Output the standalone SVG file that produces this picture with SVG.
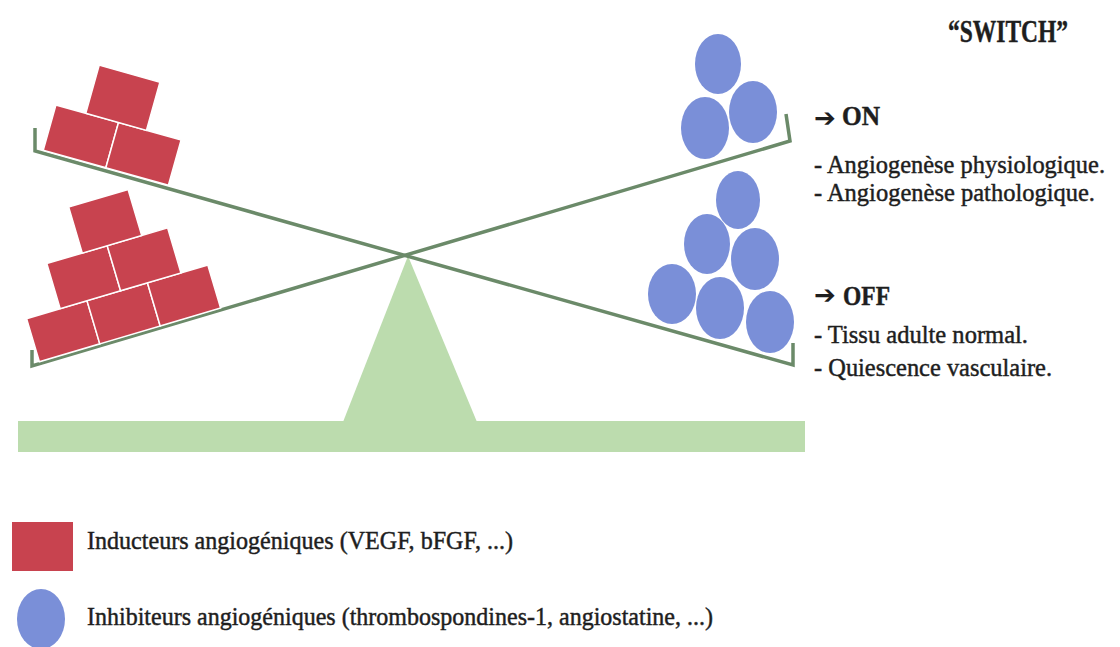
<svg xmlns="http://www.w3.org/2000/svg" width="1120" height="647" viewBox="0 0 1120 647">
<style>
.brick{fill:#c8434f;stroke:#fff;stroke-width:1.5}
.ball{fill:#7a8fd8}
.beam{fill:none;stroke:#6b8a69;stroke-width:3.5;stroke-linejoin:miter}
.base{fill:#bcdcae}
.t{font-family:"Liberation Serif",serif;fill:#1e1e1e;stroke:#1e1e1e;stroke-width:0.45}
.b{font-weight:bold}
.arr{font-family:"DejaVu Sans",sans-serif;fill:#1e1e1e}
</style>
<rect width="1120" height="647" fill="#fff"/>
<g id="support">
<rect class="base" x="18" y="421" width="787" height="31"/>
<polygon class="base" points="408,256 343,422 477,422"/>
</g>
<g id="connectors">
<polyline class="beam" points="35,128 35,151 793,365 793,343"/>
<polyline class="beam" points="32,350 32,366 790,141 786,114"/>
</g>
<g id="inducers-top" transform="translate(35,150) rotate(15.64)">
<rect class="brick" x="8" y="-49" width="65" height="47"/>
<rect class="brick" x="73" y="-49" width="65" height="47"/>
<rect class="brick" x="39" y="-99" width="63" height="50"/>
</g>
<g id="inducers-bottom" transform="translate(32,365) rotate(-16.5)">
<rect class="brick" x="8" y="-46" width="63" height="45"/>
<rect class="brick" x="71" y="-46" width="63" height="45"/>
<rect class="brick" x="134" y="-46" width="63" height="45"/>
<rect class="brick" x="43" y="-93" width="63" height="47"/>
<rect class="brick" x="106" y="-93" width="63" height="47"/>
<rect class="brick" x="80" y="-141" width="62" height="48"/>
</g>
<g id="inhibitors-top">
<ellipse class="ball" cx="718" cy="64" rx="23" ry="30"/>
<ellipse class="ball" cx="705" cy="128" rx="24" ry="31"/>
<ellipse class="ball" cx="753" cy="112" rx="24" ry="31"/>
</g>
<g id="inhibitors-bottom">
<ellipse class="ball" cx="738" cy="200" rx="22" ry="29"/>
<ellipse class="ball" cx="707" cy="244" rx="23" ry="30"/>
<ellipse class="ball" cx="755" cy="259" rx="24" ry="31"/>
<ellipse class="ball" cx="672" cy="294" rx="24" ry="30"/>
<ellipse class="ball" cx="720" cy="308" rx="24" ry="31"/>
<ellipse class="ball" cx="770" cy="322" rx="24" ry="31"/>
</g>
<g id="title">
<text class="t b" x="948" y="42" font-size="32" textLength="120" lengthAdjust="spacingAndGlyphs">“SWITCH”</text>
</g>
<g id="on-label">
<text class="arr" x="814" y="127" font-size="26">➔</text>
<text class="t b" x="842" y="125" font-size="27" textLength="38" lengthAdjust="spacingAndGlyphs">ON</text>
<text class="t" x="814" y="173" font-size="25" textLength="291" lengthAdjust="spacingAndGlyphs">- Angiogenèse physiologique.</text>
<text class="t" x="814" y="201" font-size="25" textLength="281" lengthAdjust="spacingAndGlyphs">- Angiogenèse pathologique.</text>
</g>
<g id="off-label">
<text class="arr" x="814" y="304" font-size="26">➔</text>
<text class="t b" x="843" y="305" font-size="27" textLength="47" lengthAdjust="spacingAndGlyphs">OFF</text>
<text class="t" x="814" y="343" font-size="25" textLength="214" lengthAdjust="spacingAndGlyphs">- Tissu adulte normal.</text>
<text class="t" x="814" y="376" font-size="25" textLength="238" lengthAdjust="spacingAndGlyphs">- Quiescence vasculaire.</text>
</g>
<g id="legend-inducers">
<rect x="12" y="522" width="61" height="49" fill="#c8434f"/>
<text class="t" x="87" y="549" font-size="25" textLength="426" lengthAdjust="spacingAndGlyphs">Inducteurs angiogéniques (VEGF, bFGF, ...)</text>
</g>
<g id="legend-inhibitors">
<ellipse class="ball" cx="41" cy="619" rx="24" ry="30"/>
<text class="t" x="87" y="625" font-size="25" textLength="626" lengthAdjust="spacingAndGlyphs">Inhibiteurs angiogéniques (thrombospondines-1, angiostatine, ...)</text>
</g>
</svg>
